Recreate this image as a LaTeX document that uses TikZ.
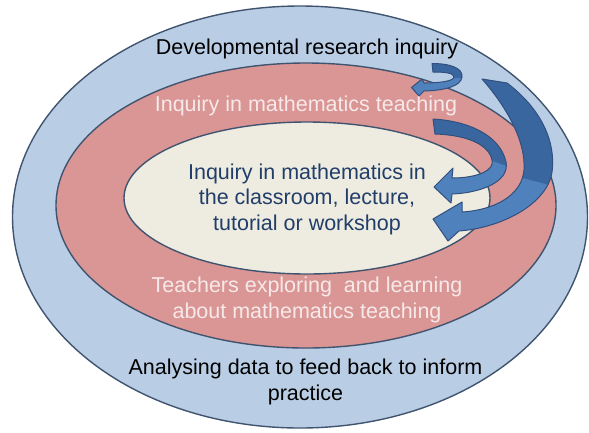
\documentclass[tikz,border=0pt]{standalone}
\usepackage{fontspec}
\setmainfont{Liberation Sans}
\definecolor{outerfill}{RGB}{185,205,229}
\definecolor{midfill}{RGB}{217,150,148}
\definecolor{innerfill}{RGB}{238,236,225}
\definecolor{ringline}{RGB}{64,84,112}
\definecolor{arrowdark}{RGB}{58,102,160}
\definecolor{arrowlight}{RGB}{79,129,189}
\definecolor{arrowline}{RGB}{50,80,125}
\definecolor{paletext}{RGB}{247,233,233}
\definecolor{navytext}{RGB}{33,62,105}

% outlines of the three curved arrows (pixel-style coordinates, y down)
\newcommand\bandSmall{(432,63.5) .. controls (450,63.5) and (463,68) .. (462,77)
  .. controls (461,86) and (445,90.5) .. (424,91) -- (419,96) -- (411.5,87.5)
  -- (422,79) -- (424,83) .. controls (440,83) and (454,81) .. (454,77)
  .. controls (454,73) and (445,72) .. (433,72) -- cycle}
\newcommand\bandMid{(433,119) .. controls (468,121) and (500,135) .. (506,162)
  .. controls (510,182) and (480,193) .. (452,194) -- (451,203) -- (434,187)
  -- (453,168) -- (452,178) .. controls (478,178) and (495,170) .. (492,160)
  .. controls (489,145) and (468,135) .. (435,134) -- cycle}
\newcommand\bandBig{(507,83) .. controls (540,108) and (556,140) .. (552,172)
  .. controls (547,205) and (500,228) .. (459,231) -- (448,241) -- (433,219)
  -- (462,202) -- (462,212) .. controls (495,210) and (522,195) .. (524,170)
  .. controls (526,140) and (505,105) .. (482,79) -- cycle}

\begin{document}
\begin{tikzpicture}[x=1bp,y=-1bp,
  ring/.style={fill=#1, draw=ringline, line width=1.4bp},
  lbl/.style={font=\fontsize{21.5bp}{25.5bp}\selectfont, align=center,
              anchor=base, inner sep=0pt},
  bandedge/.style={draw=arrowline, line width=1bp, line join=round}]
\useasboundingbox (0,0) rectangle (589,432);

% nested ellipses
\draw[ring=outerfill] (300,217) ellipse [x radius=287.5, y radius=211];
\draw[ring=midfill]   (306,205.5) ellipse [x radius=250, y radius=142.5];
\draw[ring=innerfill] (307,198) ellipse [x radius=183, y radius=76];

% labels (a multi-line label sits on the baseline of its last line)
\node[lbl, text=black] (research) at (307,54) {Developmental research inquiry};
\node[lbl, text=paletext] (teaching) at (306,111) {Inquiry in mathematics teaching};
\node[lbl, text=navytext] (classroom) at (307,230)
  {Inquiry in mathematics in\\the classroom, lecture,\\tutorial or workshop};
\node[lbl, text=paletext] (teachers) at (307,318)
  {Teachers exploring~ and learning\\about mathematics teaching};
\node[lbl, text=black] (analysing) at (305.5,400)
  {Analysing data to feed back to inform\\practice};

% curved arrows: light front face, darker back face, outline
\foreach \band/\cut in {\bandSmall/{(420,50) -- (470,50) -- (470,77.5) -- (420,77.5) -- cycle},
                        \bandMid/{(425,105) -- (520,105) -- (520,171) -- (485,158) -- (425,158) -- cycle},
                        \bandBig/{(470,70) -- (565,70) -- (565,189) -- (515,176) -- (470,176) -- cycle}}{
  \fill[arrowlight] \band;
  \begin{scope}
    \clip \cut;
    \fill[arrowdark] \band;
  \end{scope}
  \path[bandedge] \band;
}
\end{tikzpicture}
\end{document}
